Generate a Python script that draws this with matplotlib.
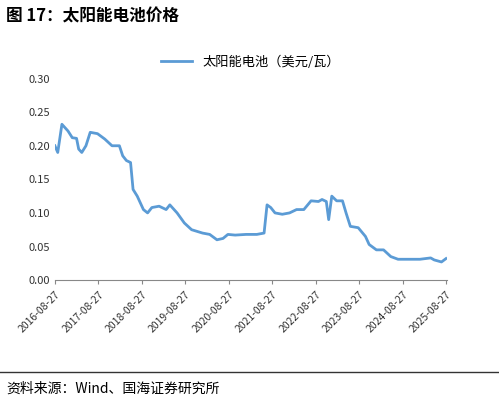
import matplotlib
matplotlib.use("Agg")
import matplotlib.pyplot as plt
import pandas as pd
from matplotlib.lines import Line2D

plt.rcParams['font.family'] = ['Noto Sans CJK SC', 'DejaVu Sans']

dates = ["2016-08-27","2016-09-20","2016-10-25","2016-12-15","2017-01-20","2017-02-25","2017-03-15","2017-04-10",
 "2017-05-15","2017-06-20","2017-08-20","2017-10-20","2017-12-20","2018-02-20","2018-03-20","2018-04-20","2018-05-25",
 "2018-06-15","2018-07-20","2018-09-10","2018-10-15","2018-11-20","2019-01-20","2019-03-20","2019-04-20","2019-06-20",
 "2019-08-20","2019-10-20","2020-01-20","2020-03-20","2020-05-20","2020-07-10","2020-08-20","2020-10-20","2021-01-20",
 "2021-04-20","2021-06-20","2021-07-15","2021-08-15","2021-09-20","2021-11-20","2022-01-20","2022-03-20","2022-05-20",
 "2022-07-20","2022-09-20","2022-10-20","2022-11-25","2022-12-15","2023-01-10","2023-02-20","2023-04-10","2023-05-10",
 "2023-06-15","2023-08-20","2023-10-20","2023-11-20","2024-01-20","2024-03-20","2024-05-20","2024-07-20","2024-10-20",
 "2025-01-20","2025-04-20","2025-05-20","2025-07-20","2025-08-27"]
price = [0.20,0.19,0.232,0.222,0.212,0.211,0.195,0.19,0.20,0.22,0.218,0.21,0.20,0.20,0.185,0.178,0.175,
 0.135,0.125,0.105,0.10,0.108,0.11,0.105,0.112,0.10,0.085,0.075,0.07,0.068,0.06,0.062,0.068,0.067,0.068,
 0.068,0.07,0.112,0.108,0.10,0.098,0.10,0.105,0.105,0.118,0.117,0.12,0.117,0.09,0.125,0.118,0.118,0.10,
 0.08,0.078,0.065,0.053,0.045,0.045,0.035,0.031,0.031,0.031,0.033,0.030,0.027,0.032]
tick_labels = [f"{y}-08-27" for y in range(2016, 2026)]

fig = plt.figure(figsize=(4.99, 4.03), dpi=100)
ax = fig.add_axes([0.11, 0.305, 0.785, 0.50])
ax.plot(pd.to_datetime(dates), price, color="#5B9BD5", lw=2.0)
ax.set_ylim(0, 0.30)
ax.set_yticks([0, 0.05, 0.10, 0.15, 0.20, 0.25, 0.30])
ax.set_yticklabels([f"{v:.2f}" for v in ax.get_yticks()])
ticks = pd.to_datetime(tick_labels)
ax.set_xticks(ticks)
ax.set_xticklabels(tick_labels, rotation=45, ha="right", rotation_mode="anchor")
ax.set_xlim(ticks[0], ticks[-1] + pd.Timedelta(days=5))
for s in ["top", "right", "left"]:
    ax.spines[s].set_visible(False)
ax.spines["bottom"].set_color("#888888")
ax.tick_params(axis="y", length=0, labelsize=8, colors="#333333")
ax.tick_params(axis="x", length=3, labelsize=7.5, colors="#333333", color="#888888")
ax.legend([Line2D([0], [0], color="#5B9BD5", lw=2.0)], ["太阳能电池（美元/瓦）"],
          loc="lower center", bbox_to_anchor=(0.5, 0.99), frameon=False, fontsize=9.5, handlelength=2.3)

fig.text(0.012, 0.96, "图 17：太阳能电池价格", fontsize=12, fontweight="bold", va="center")
fig.add_artist(Line2D([0.0, 1.0], [0.077, 0.077], color="#333333", lw=1, transform=fig.transFigure))
fig.text(0.012, 0.035, "资料来源：Wind、国海证券研究所", fontsize=10, va="center")
fig.savefig("out.png", dpi=100)
